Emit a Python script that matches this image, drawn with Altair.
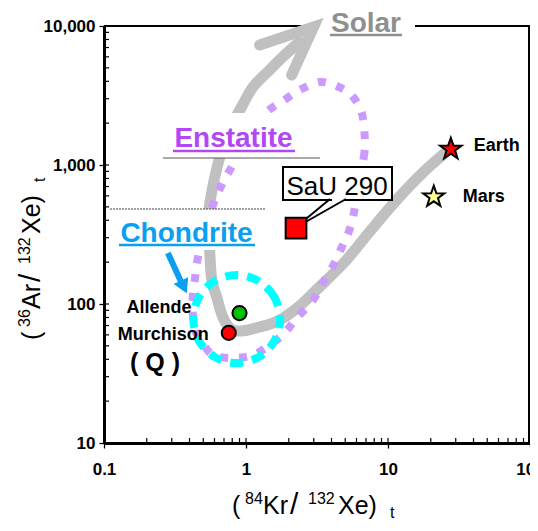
import altair as alt
import pandas as pd

FONT = "Liberation Sans"

# ---------------- values ----------------
# grey evolution track: from the "Solar" arrow end down, round the U-turn, up to Earth
gray_kr = [2.38, 1.81, 1.47, 1.12, 0.93, 0.83, 0.675, 0.556, 0.547, 0.556, 0.574, 0.622,
           0.686, 0.781, 0.933, 1.25, 1.73, 2.38, 3.30, 4.94, 7.40, 11.5, 17.5, 25.7, 27.7]
gray_ar = [7670, 5980, 4830, 3640, 2615, 2107, 1282, 533, 341, 233, 149, 112,
           80.6, 66.1, 63.9, 68.3, 76.7, 96.7, 133, 200, 330, 560, 876, 1240, 1300]
# open arrow head at the Solar end
arrow_kr = [1.248, 2.991, 2.096]
arrow_ar = [7300, 9835, 4442]

# Enstatite field (dotted loop)
enst_kr = [6.83, 6.83, 6.30, 5.81, 5.35, 4.70, 4.07, 3.40, 2.90, 2.27, 1.87, 1.47, 1.12,
           0.806, 0.583, 0.496, 0.436, 0.422, 0.422, 0.436, 0.458, 0.513, 0.603, 0.686,
           0.806, 1.03, 1.40, 1.87, 2.38, 3.30, 4.34, 5.53, 6.50]
enst_ar = [1699, 1240, 780, 475, 341, 253, 185, 137, 103, 79.3, 61.9, 50.7, 43.0,
           40.9, 43.0, 52.4, 65.0, 86.2, 112, 149, 214, 341, 560, 742,
           1000, 1644, 2406, 2935, 3464, 3955, 3701, 3189, 2406]

# Chondrite field (dashed ring)
chon_kr = [1.739, 1.583, 1.223, 0.860, 0.605, 0.467, 0.426, 0.467, 0.605, 0.860, 1.223, 1.583]
chon_ar = [78.0, 112.3, 146.6, 161.7, 146.6, 112.3, 78.0, 54.2, 41.5, 37.6, 41.5, 54.2]

# samples
sample_names = ["Earth", "Mars", "SaU 290", "Allende", "Murchison"]
sample_kr = [27.7, 21.0, 2.25, 0.90, 0.756]
sample_ar = [1300, 590, 352, 86, 62]

# blue pointer from the "Chondrite" label
chon_arrow_kr = [0.2817, 0.3476]
chon_arrow_ar = [233, 146]
chon_head_kr = [0.3648]
chon_head_ar = [132.6]

# axes
x_ticks = [0.1, 1, 10, 100]
y_ticks = [10, 100, 1000, 10000]
x_minor = [0.2, 0.3, 0.4, 0.5, 0.6, 0.7, 0.8, 0.9, 2, 3, 4, 5, 6, 7, 8, 9,
           20, 30, 40, 50, 60, 70, 80, 90]
y_minor = [20, 30, 40, 50, 60, 70, 80, 90, 200, 300, 400, 500, 600, 700, 800, 900,
           2000, 3000, 4000, 5000, 6000, 7000, 8000, 9000]

# axis title pieces (text, size, role)
x_title = [("(", 25, "main"), ("84", 16, "sup"), ("Kr", 25, "main"), ("/", 30, "main"),
           ("132", 16, "sup"), ("Xe)", 25, "main"), ("t", 16, "sub")]
y_title = [("(", 25, "main"), ("36", 16, "sup"), ("Ar", 25, "main"), ("/", 30, "main"),
           ("132", 16, "sup"), ("Xe)", 25, "main"), ("t", 16, "sub")]
title_offsets = [0, 13, 31, 58, 76, 106, 158]

# ---------------- layout / styles ----------------
W, H = 426, 417
GRAY = "#c0c0c0"
PURPLE = "#cc99ff"
CYAN = "#00ffff"
ENST_C = "#b347f5"
CHON_C = "#0a9ff0"
SOLAR_C = "#8f8f8f"
STAR = ("M0,-1L0.235,-0.324L0.951,-0.309L0.380,0.124L0.588,0.809L0,0.4"
        "L-0.588,0.809L-0.380,0.124L-0.951,-0.309L-0.235,-0.324Z")

XS = alt.Scale(type="log", domain=[0.1, 100])
YS = alt.Scale(type="log", domain=[10, 10000])
XA = alt.Axis(values=x_ticks, format="~g", title=None, grid=False, domainWidth=3,
              domainColor="black", tickSize=5, tickWidth=1.3, tickColor="black",
              labelFont=FONT, labelFontSize=17, labelFontWeight="bold", labelColor="black",
              labelPadding=13, labelFlush=False, labelOverlap=False)
YA = alt.Axis(values=y_ticks, format=",", title=None, grid=False, domainWidth=3,
              domainColor="black", tickSize=5, tickWidth=1.3, tickColor="black",
              labelFont=FONT, labelFontSize=17, labelFontWeight="bold", labelColor="black",
              labelPadding=4, labelFlush=False, labelOverlap=False)


def X(f="kr"):
    return alt.X(f"{f}:Q", scale=XS, axis=XA)


def Y(f="ar"):
    return alt.Y(f"{f}:Q", scale=YS, axis=YA)


def path_df(xs, ys):
    return pd.DataFrame({"kr": xs, "ar": ys, "i": list(range(len(xs)))})


ONE = pd.DataFrame({"a": [0]})


def box(x, x2, y, y2, **kw):
    return alt.Chart(ONE).mark_rect(**kw).encode(
        x=alt.value(x), x2=alt.value(x2), y=alt.value(y), y2=alt.value(y2))


def seg(x, x2, y, y2, **kw):
    return alt.Chart(ONE).mark_rule(**kw).encode(
        x=alt.value(x), x2=alt.value(x2), y=alt.value(y), y2=alt.value(y2))


def label(text, x, y, size, color="black", weight="normal", align="center",
          baseline="alphabetic", angle=0):
    return alt.Chart(pd.DataFrame({"t": [text]})).mark_text(
        font=FONT, fontSize=size, fontWeight=weight, color=color, align=align,
        baseline=baseline, angle=angle).encode(text="t:N", x=alt.value(x), y=alt.value(y))


samples = pd.DataFrame({"name": sample_names, "kr": sample_kr, "ar": sample_ar})


def sample_point(name, shape, fill, size):
    return alt.Chart(samples[samples.name == name]).mark_point(
        shape=shape, filled=True, fill=fill, stroke="black", strokeWidth=2,
        size=size, opacity=1).encode(x=X(), y=Y())


def sample_label(name, dx, dy, align, size=18):
    return alt.Chart(samples[samples.name == name]).mark_text(
        font=FONT, fontSize=size, fontWeight="bold", color="black", align=align,
        baseline="middle", dx=dx, dy=dy).encode(x=X(), y=Y(), text="name:N")


layers = []
# frame (top / right) and the gap for "Solar"
layers.append(seg(0, W, 0, 0, color="black", strokeWidth=2))
layers.append(seg(W - 1, W - 1, 0, H, color="black", strokeWidth=2))
layers.append(box(212, 311, -20, 14, fill="white"))

# curves
layers.append(alt.Chart(path_df(gray_kr, gray_ar)).mark_line(
    color=GRAY, strokeWidth=11, interpolate="cardinal", strokeCap="round",
    strokeJoin="round").encode(x=X(), y=Y(), order="i:Q"))
layers.append(alt.Chart(path_df(arrow_kr, arrow_ar)).mark_line(
    color=GRAY, strokeWidth=11, strokeCap="round", strokeJoin="miter").encode(
    x=X(), y=Y(), order="i:Q"))
layers.append(alt.Chart(path_df(enst_kr, enst_ar)).mark_line(
    color=PURPLE, strokeWidth=8, strokeDash=[8, 11], interpolate="cardinal-closed").encode(
    x=X(), y=Y(), order="i:Q"))
layers.append(alt.Chart(path_df(chon_kr, chon_ar)).mark_line(
    color=CYAN, strokeWidth=8, strokeDash=[13, 9], interpolate="cardinal-closed").encode(
    x=X(), y=Y(), order="i:Q"))

# label boxes
layers.append(box(59, 216, 87, 132, fill="white"))
layers.append(seg(59, 216, 132, 132, color="#555555", strokeWidth=1))
layers.append(box(6, 162, 183, 224, fill="white"))
layers.append(seg(6, 162, 183, 183, color="#444444", strokeWidth=1, strokeDash=[2, 1]))
layers.append(box(179, 288, 141, 174, fill="white", stroke="black", strokeWidth=2))
layers.append(seg(228, 240, 174, 174, color="white", strokeWidth=3))
layers.append(seg(226, 191, 173, 202, color="black", strokeWidth=2))
layers.append(seg(242, 191, 173, 202, color="black", strokeWidth=2))

# minor / inner ticks
layers.append(alt.Chart(pd.DataFrame({"ar": y_minor + y_ticks})).mark_rule(
    color="black", strokeWidth=1.2).encode(y=Y(), x=alt.value(0), x2=alt.value(5)))
layers.append(alt.Chart(pd.DataFrame({"kr": x_minor + x_ticks})).mark_rule(
    color="black", strokeWidth=1.2).encode(x=X(), y=alt.value(H - 5), y2=alt.value(H)))

# samples
layers.append(sample_point("SaU 290", "square", "#ff0000", 430))
layers.append(sample_point("Allende", "circle", "#00c000", 200))
layers.append(sample_point("Murchison", "circle", "#ff0000", 200))
layers.append(sample_point("Earth", STAR, "#ff0000", 520))
layers.append(sample_point("Mars", STAR, "#ffff99", 500))

layers.append(sample_label("Earth", 23, -3, "left"))
layers.append(sample_label("Mars", 29, 0, "left"))
layers.append(sample_label("Allende", -48, -5, "right"))
layers.append(sample_label("Murchison", -20, 2, "right"))
layers.append(label("( Q )", 51, 345, 25, weight="bold"))

# field labels
layers.append(label("Solar", 262, 6, 28, color=SOLAR_C, weight="bold"))
layers.append(seg(226, 298, 9, 9, color=SOLAR_C, strokeWidth=2.5))
layers.append(label("Enstatite", 129.5, 121, 28, color=ENST_C, weight="bold"))
layers.append(seg(69, 191, 125, 125, color=ENST_C, strokeWidth=2.5))
layers.append(label("Chondrite", 82.5, 216, 28, color=CHON_C, weight="bold"))
layers.append(seg(15, 151, 219, 219, color=CHON_C, strokeWidth=2.5))
layers.append(label("SaU 290", 233, 169, 26))

# pointer from "Chondrite"
layers.append(alt.Chart(path_df(chon_arrow_kr, chon_arrow_ar)).mark_line(
    color=CHON_C, strokeWidth=6).encode(x=X(), y=Y(), order="i:Q"))
layers.append(alt.Chart(pd.DataFrame({"kr": chon_head_kr, "ar": chon_head_ar})).mark_point(
    shape="triangle-up", filled=True, color=CHON_C, size=260, angle=155, opacity=1).encode(
    x=X(), y=Y()))

# axis titles built from pieces (super/subscripts)
X_START, X_BASE = 128, 488
for (txt, size, role), off in zip(x_title, title_offsets):
    yy = X_BASE + {"main": 0, "sup": -10, "sub": 4}[role]
    layers.append(label(txt, X_START + off, yy, size, align="left"))
Y_START, Y_BASE = 314, -64
for (txt, size, role), off in zip(y_title, title_offsets):
    xx = Y_BASE + {"main": 0, "sup": -10, "sub": 5}[role]
    layers.append(label(txt, xx, Y_START - off, size, align="left", angle=270))

chart = alt.layer(*layers).properties(
    width=W, height=H,
    autosize=alt.AutoSizeParams(type="none"),
    padding={"left": 96, "top": 18, "right": 0, "bottom": 80},
    background="white",
).configure_view(strokeWidth=0)

chart.save("out.html", embed_options={"renderer": "svg", "actions": False})
